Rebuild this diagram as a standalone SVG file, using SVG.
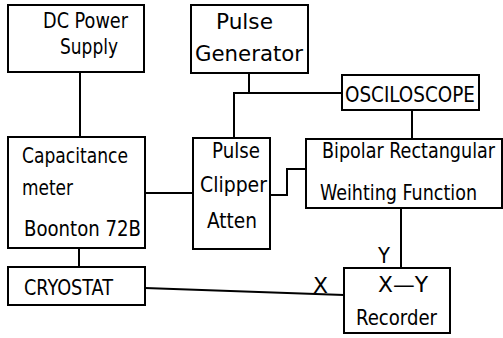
<svg xmlns="http://www.w3.org/2000/svg" width="503" height="338" viewBox="0 0 503 338">
<style>
rect{fill:#fff;stroke:#000;stroke-width:2}
.c{fill:none;stroke:#000;stroke-width:2}
text{font-family:"DejaVu Sans Condensed","DejaVu Sans",sans-serif;font-size:22px;fill:#000}
</style>
<rect x="0" y="0" width="503" height="338" style="stroke:none"/>
<g id="connectors">
<path class="c" d="M80 72V137"/>
<path class="c" d="M249 73V93H234V138M249 93H342"/>
<path class="c" d="M412 110V139"/>
<path class="c" d="M145 193H193"/>
<path class="c" d="M270 195H287V169H306"/>
<path class="c" d="M79 248V267"/>
<path class="c" d="M145 288L344 295"/>
<path class="c" d="M401 208V268"/>
<text transform="translate(313 293) scale(0.82 1)" font-size="21" textLength="18.3" lengthAdjust="spacingAndGlyphs">X</text>
<text transform="translate(378 263) scale(0.82 1)" font-size="22" textLength="14.6" lengthAdjust="spacingAndGlyphs">Y</text>
</g>
<g id="dc">
<rect x="8" y="5" width="136" height="67"/>
<text transform="translate(43 28) scale(0.82 1)" font-size="19" textLength="103.7" lengthAdjust="spacingAndGlyphs">DC Power</text>
<text transform="translate(60 54) scale(0.82 1)" font-size="19" textLength="70.7" lengthAdjust="spacingAndGlyphs">Supply</text>
</g>
<g id="pulsegen">
<rect x="191" y="5" width="117" height="68"/>
<text transform="translate(216 29) scale(0.82 1)" font-size="20" textLength="69.5" lengthAdjust="spacingAndGlyphs">Pulse</text>
<text transform="translate(195 61) scale(0.82 1)" font-size="21" textLength="131.7" lengthAdjust="spacingAndGlyphs">Generator</text>
</g>
<g id="osc">
<rect x="342" y="75" width="137" height="35"/>
<text transform="translate(345 102) scale(0.82 1)" font-size="26" textLength="158.5" lengthAdjust="spacingAndGlyphs">OSCILOSCOPE</text>
</g>
<g id="cap">
<rect x="8" y="137" width="137" height="111"/>
<text transform="translate(22 163) scale(0.82 1)" font-size="22" textLength="129.3" lengthAdjust="spacingAndGlyphs">Capacitance</text>
<text transform="translate(22 195) scale(0.82 1)" font-size="22" textLength="62.2" lengthAdjust="spacingAndGlyphs">meter</text>
<text transform="translate(24 236) scale(0.82 1)" font-size="24" textLength="142.7" lengthAdjust="spacingAndGlyphs">Boonton 72B</text>
</g>
<g id="clipper">
<rect x="193" y="138" width="77" height="111"/>
<text transform="translate(212 158) scale(0.82 1)" font-size="19" textLength="58.5" lengthAdjust="spacingAndGlyphs">Pulse</text>
<text transform="translate(200 192) scale(0.82 1)" font-size="21" textLength="81.7" lengthAdjust="spacingAndGlyphs">Clipper</text>
<text transform="translate(207 228) scale(0.82 1)" font-size="21" textLength="61" lengthAdjust="spacingAndGlyphs">Atten</text>
</g>
<g id="bipolar">
<rect x="306" y="139" width="196" height="69"/>
<text transform="translate(322 158) scale(0.82 1)" font-size="18" textLength="211" lengthAdjust="spacingAndGlyphs">Bipolar Rectangular</text>
<text transform="translate(320 200) scale(0.82 1)" font-size="23" textLength="191.5" lengthAdjust="spacingAndGlyphs">Weihting Function</text>
</g>
<g id="cryostat">
<rect x="8" y="267" width="137" height="38"/>
<text transform="translate(24 295) scale(0.82 1)" font-size="27" textLength="108.5" lengthAdjust="spacingAndGlyphs">CRYOSTAT</text>
</g>
<g id="recorder">
<rect x="344" y="268" width="106" height="65"/>
<text transform="translate(378 292) scale(0.82 1)" font-size="24" textLength="61" lengthAdjust="spacingAndGlyphs">X—Y</text>
<text transform="translate(356 325) scale(0.82 1)" font-size="21" textLength="98.8" lengthAdjust="spacingAndGlyphs">Recorder</text>
</g>
</svg>
